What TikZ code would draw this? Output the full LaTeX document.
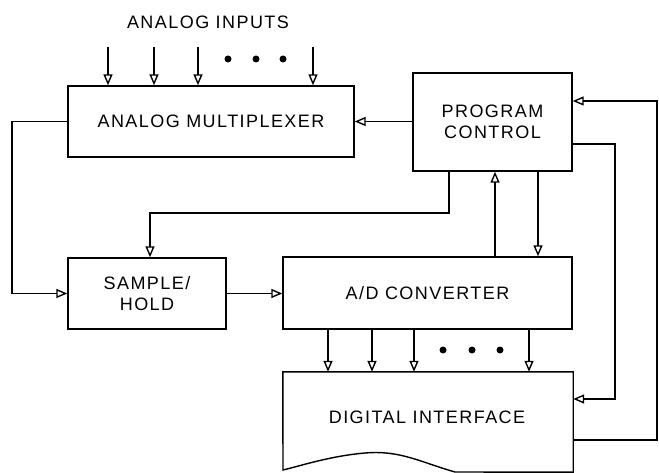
\documentclass[tikz,border=0pt]{standalone}
\usepackage{fontspec}
\setmainfont{Liberation Sans}
\newfontfamily\diafont[LetterSpace=8]{Liberation Sans}
\usetikzlibrary{arrows.meta}
\tikzset{
  blk/.style={draw, line width=1.4pt, rectangle, inner sep=0pt, font=\diafont\fontsize{18}{21}\selectfont, align=center},
  con/.style={line width=1.4pt},
  arr/.style={con, -{Triangle[open, length=11pt, width=9pt, line width=1.4pt]}},
  dotm/.style={circle, fill=black, inner sep=0pt, minimum size=7pt},
  lbl/.style={font=\diafont\fontsize{18}{21}\selectfont, inner sep=0pt}
}
\begin{document}
\begin{tikzpicture}[x=1pt,y=-1pt]
\useasboundingbox (0,0) rectangle (659,473);
% blocks
\node[blk, minimum width=286pt, minimum height=71pt] (mux) at (211,121.5) {ANALOG MULTIPLEXER};
\node[blk, minimum width=159pt, minimum height=98pt] (pc) at (492.5,122) {PROGRAM\\CONTROL};
\node[blk, minimum width=158pt, minimum height=71pt] (sh) at (147,293.5) {SAMPLE/\\HOLD};
\node[blk, minimum width=289pt, minimum height=72pt] (ad) at (427.5,293) {A/D CONVERTER};
\node[lbl, minimum width=290pt, minimum height=100pt] (di) at (428,422) {};
\node[lbl] (ditext) at (427,417) {DIGITAL INTERFACE};
\draw[con] (di.north west) -- (di.north east) -- (di.south east) -- (455,472)
  .. controls (420,462) and (400,450) .. (365,453)
  .. controls (330,456) and (300,466) .. (283,470) -- cycle;
% title
\node[lbl] (title) at (208,22) {ANALOG INPUTS};
% analog inputs
\foreach \x/\n in {108/a,154/b,198/c,313/d}{
  \coordinate (in\n) at (\x,47);
  \draw[arr] (in\n) -- (in\n |- mux.north);
}
\foreach \x in {228,256,283}{ \node[dotm] at (\x,59) {}; }
% program control -> mux
\draw[arr] (mux.east -| pc.west) -- (mux.east);
% mux -> sample/hold
\coordinate (lft) at (12,0);
\draw[arr] (mux.west) -- (lft |- mux.west) |- (sh.west);
% sample/hold -> A/D
\draw[arr] (sh.east) -- (sh.east -| ad.west);
% program control -> sample/hold
\coordinate (c1) at (449,213);
\coordinate (c2) at (150,213);
\draw[arr] (c1 |- pc.south) -- (c1) -- (c2) -- (c2 |- sh.north);
% A/D <-> program control
\coordinate (u) at (495,0);
\coordinate (v) at (538,0);
\draw[arr] (u |- ad.north) -- (u |- pc.south);
\draw[arr] (v |- pc.south) -- (v |- ad.north);
% program control -> digital interface
\coordinate (r1) at (615,144);
\coordinate (r1b) at (615,399);
\draw[arr] (r1 -| pc.east) -- (r1) -- (r1b) -- (r1b -| di.east);
% digital interface -> program control
\coordinate (r2) at (657,440);
\coordinate (r2t) at (657,101);
\draw[arr] (r2 -| di.east) -- (r2) -- (r2t) -- (r2t -| pc.east);
% A/D -> digital interface
\foreach \x/\n in {328/a,372/b,414/c,529/d}{
  \coordinate (o\n) at (\x,0);
  \draw[arr] (o\n |- ad.south) -- (o\n |- di.north);
}
\foreach \x in {443,472,500}{ \node[dotm] at (\x,350) {}; }
\end{tikzpicture}
\end{document}
